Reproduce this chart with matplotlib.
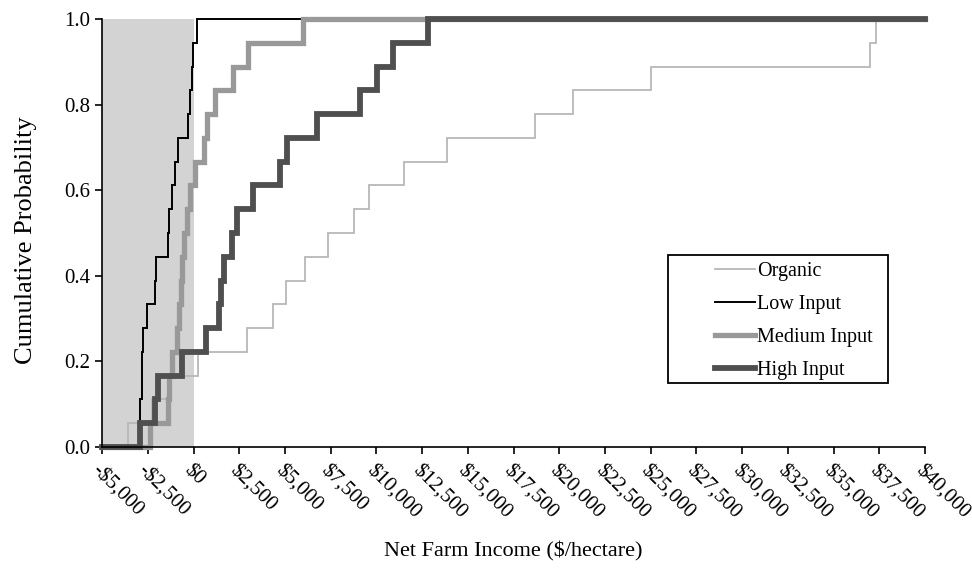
import matplotlib
matplotlib.use("Agg")
import matplotlib.pyplot as plt
from matplotlib.patches import Rectangle
from matplotlib.ticker import FuncFormatter, MultipleLocator

plt.rcParams['font.family'] = ['Liberation Serif', 'DejaVu Serif']

# Sorted net farm income outcomes ($/hectare), 18 observations per system
organic = [-3565, -2269, -1285, 246, 2909, 4331, 5058, 6097, 7338, 8776,
           9613, 11510, 13878, 18673, 20767, 25016, 36991, 37319]
low_input = [-2925, -2900, -2816, -2789, -2761, -2559, -2105, -2050, -1394,
             -1340, -1192, -1012, -831, -284, -191, -98, -11, 175]
medium_input = [-2379, -1394, -1340, -1176, -902, -793, -711, -629, -519,
                -355, -191, 82, 574, 722, 1176, 2176, 2996, 5960]
high_input = [-2925, -2105, -1941, -645, 683, 1367, 1504, 1668, 2132, 2362,
              3270, 4730, 5096, 6737, 9105, 10018, 10930, 12839]

series_names = ["Organic", "Low Input", "Medium Input", "High Input"]
x_min, x_max = -5000, 40000
shade_end = 0

fig = plt.figure(figsize=(9.72, 5.73), dpi=100)
ax = fig.add_axes([0.105, 0.2199, 0.8467, 0.7469])

ax.axvspan(x_min, shade_end, color='#d3d3d3', lw=0, zorder=0)

styles = [
    dict(color='#b8b8b8', lw=1.3, zorder=2),
    dict(color='#000000', lw=1.4, zorder=3),
    dict(color='#999999', lw=3.8, zorder=4),
    dict(color='#4f4f4f', lw=4.2, zorder=5),
]
handles = []
for name, vals, st in zip(series_names, [organic, low_input, medium_input, high_input], styles):
    n = len(vals)
    xs = [x_min] + sorted(vals) + [x_max]
    ys = [0.0] + [(i + 1) / n for i in range(n)] + [1.0]
    h, = ax.step(xs, ys, where='post', label=name, clip_on=False,
                 solid_joinstyle='miter', **st)
    handles.append(h)

ax.set_xlim(x_min, x_max)
ax.set_ylim(0, 1)
for s in ['top', 'right']:
    ax.spines[s].set_visible(False)
for s in ['left', 'bottom']:
    ax.spines[s].set_linewidth(1.2)
    ax.spines[s].set_zorder(6)

ax.xaxis.set_major_locator(MultipleLocator(2500))
ax.yaxis.set_major_locator(MultipleLocator(0.2))

def money(v, pos):
    v = int(round(v))
    return ("-" if v < 0 else "") + "${:,}".format(abs(v))

ax.xaxis.set_major_formatter(FuncFormatter(money))
ax.yaxis.set_major_formatter(FuncFormatter(lambda v, p: "{:.1f}".format(v)))
ax.tick_params(axis='both', direction='out', length=5, width=1.2, labelsize=15, colors='black')
ax.tick_params(axis='x', pad=5)
for lab in ax.get_xticklabels():
    lab.set_rotation(-45)
    lab.set_ha('left')
    lab.set_va('top')
    lab.set_rotation_mode('anchor')

fig.text(0.027, 1 - 240 / 573, "Cumulative Probability", rotation=90, ha='center', va='center', fontsize=19)
fig.text(0.528, 0.038, "Net Farm Income ($/hectare)", ha='center', va='center', fontsize=16)

# Legend frame
ax.add_patch(Rectangle((0.6877, 0.1495), 0.2673, 0.2991, transform=ax.transAxes,
                       fill=False, edgecolor='black', lw=1.3, zorder=7, clip_on=False))
leg = ax.legend(handles=handles, loc='upper left', bbox_to_anchor=(0.7448, 0.432),
                frameon=False, fontsize=14.5, handlelength=2.0, handletextpad=0.1,
                labelspacing=0.68, borderpad=0, borderaxespad=0)

fig.savefig("out.png", dpi=100)
